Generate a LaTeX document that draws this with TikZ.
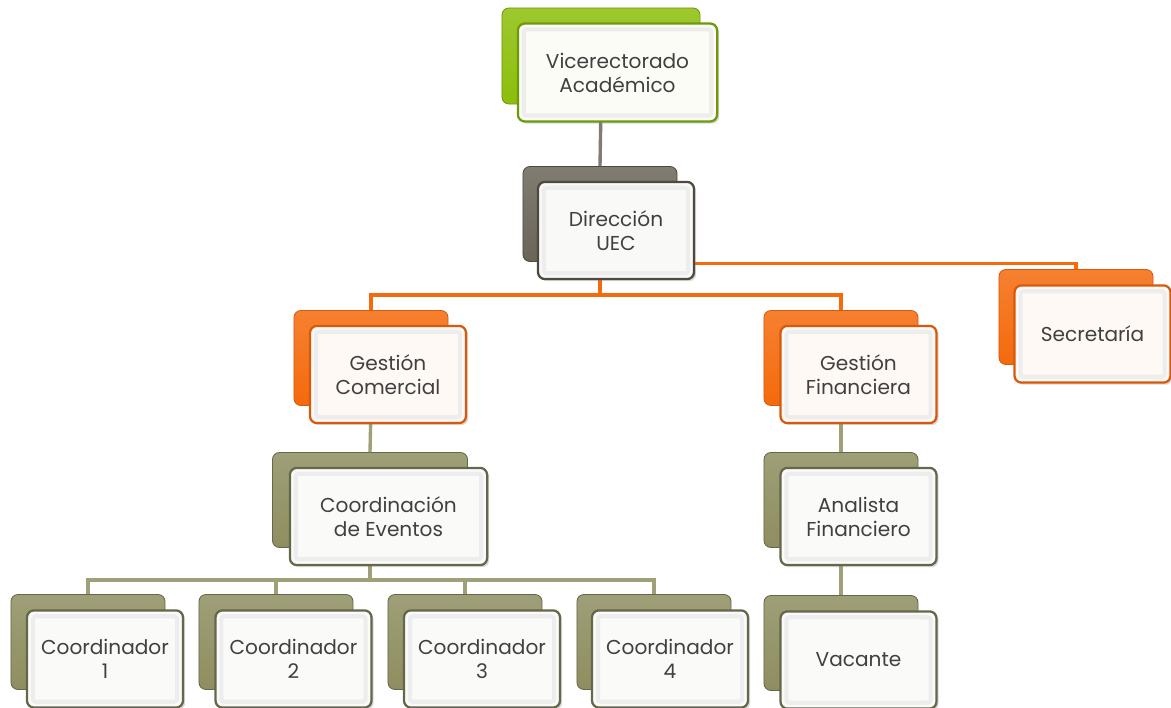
\documentclass[tikz,border=0pt]{standalone}
\usepackage{fontspec}
\setmainfont{Poppins}
\usetikzlibrary{shadows}
\definecolor{verde}{HTML}{8CBE0A}
\definecolor{verdeO}{HTML}{6E9A0A}
\definecolor{gris}{HTML}{6B6558}
\definecolor{grisO}{HTML}{4E493F}
\definecolor{naranja}{HTML}{F46A0C}
\definecolor{naranjaO}{HTML}{D9590A}
\definecolor{oliva}{HTML}{8E8E60}
\definecolor{olivaO}{HTML}{66664A}
\definecolor{texto}{HTML}{404040}
\tikzset{
	fondo/.style={rounded corners=5pt, draw=#1O, line width=.6pt, top color=#1!85!white, bottom color=#1,
		minimum width=3.85cm, minimum height=2.375cm},
	frente/.style={rounded corners=5pt, draw=#1O, line width=1.6pt, fill=#1!4!white,
		minimum width=3.9cm, minimum height=2.43cm, align=center, text=texto,
		font=\fontsize{14.3}{17}\selectfont,
		drop shadow={opacity=.3, shadow xshift=1.5pt, shadow yshift=-1.5pt}},
	linea/.style={draw=#1, line width=2.4pt},
	bisel/.style={draw=black!7, line width=3pt, rounded corners=2pt}
}
\begin{document}
\begin{tikzpicture}[x=.025cm, y=-.025cm]
	\useasboundingbox (0,0) rectangle (1171,708);
	% hintere Kaesten
	\node[fondo=verde, minimum width=4.95cm, minimum height=2.4cm] (vic-b) at (601,56) {};
	\node[fondo=gris]    (dir-b)  at (600,214) {};
	\node[fondo=naranja] (gcom-b) at (371,358) {};
	\node[fondo=naranja] (gfin-b) at (841,358) {};
	\node[fondo=naranja] (sec-b)  at (1076,317) {};
	\node[fondo=oliva, minimum width=4.875cm] (cev-b) at (370,500) {};
	\node[fondo=oliva]   (afin-b) at (841,500) {};
	\node[fondo=oliva]   (c1-b)   at (88,642) {};
	\node[fondo=oliva]   (c2-b)   at (276,642) {};
	\node[fondo=oliva]   (c3-b)   at (465,642) {};
	\node[fondo=oliva]   (c4-b)   at (654,642) {};
	\node[fondo=oliva]   (vac-b)  at (841,643) {};
	% Verbindungen
	\draw[linea=gris!85!white]  (vic-b.south) -- (dir-b.north);
	\draw[linea=naranja]        (dir-b.south) -- ++(0,33) coordinate (r1) -| (gcom-b.north);
	\draw[linea=naranja]        (r1) -| (gfin-b.north);
	\draw[linea=naranja]        (dir-b.south) ++(0,1.5) -| (sec-b.north);
	\draw[linea=oliva!85!white] (gcom-b.south) -- (cev-b.north);
	\draw[linea=oliva!85!white] (gfin-b.south) -- (afin-b.north);
	\draw[linea=oliva!85!white] (afin-b.south) -- (vac-b.north);
	\draw[linea=oliva!85!white] (cev-b.south) -- ++(0,32) coordinate (r3);
	\foreach \n in {c1,c2,c3,c4}
		\draw[linea=oliva!85!white] (r3) -| (\n-b.north);
	% vordere Kaesten
	\node[frente=verde, minimum width=4.98cm, minimum height=2.45cm] (vic) at (617.5,72.5) {Vicerectorado\\Académico};
	\node[frente=gris]    (dir)  at (616,230.5) {Dirección\\UEC};
	\node[frente=naranja] (gcom) at (388,374.5) {Gestión\\Comercial};
	\node[frente=naranja] (gfin) at (858.5,374.5) {Gestión\\Financiera};
	\node[frente=naranja] (sec)  at (1092.5,334) {Secretaría};
	\node[frente=oliva, minimum width=4.93cm] (cev) at (388.5,516.5) {Coordinación\\de Eventos};
	\node[frente=oliva]   (afin) at (858.5,516.5) {Analista\\Financiero};
	\node[frente=oliva]   (c1)   at (105,659) {Coordinador\\1};
	\node[frente=oliva]   (c2)   at (293.5,659) {Coordinador\\2};
	\node[frente=oliva]   (c3)   at (482,659) {Coordinador\\3};
	\node[frente=oliva]   (c4)   at (670,659) {Coordinador\\4};
	\node[frente=oliva]   (vac)  at (858.5,660) {Vacante};
	% Abschraegung
	\foreach \n in {vic,dir,gcom,gfin,sec,cev,afin,c1,c2,c3,c4,vac}
		\draw[bisel] ([shift={(5pt,-5pt)}]\n.north west) rectangle ([shift={(-5pt,5pt)}]\n.south east);
\end{tikzpicture}
\end{document}
